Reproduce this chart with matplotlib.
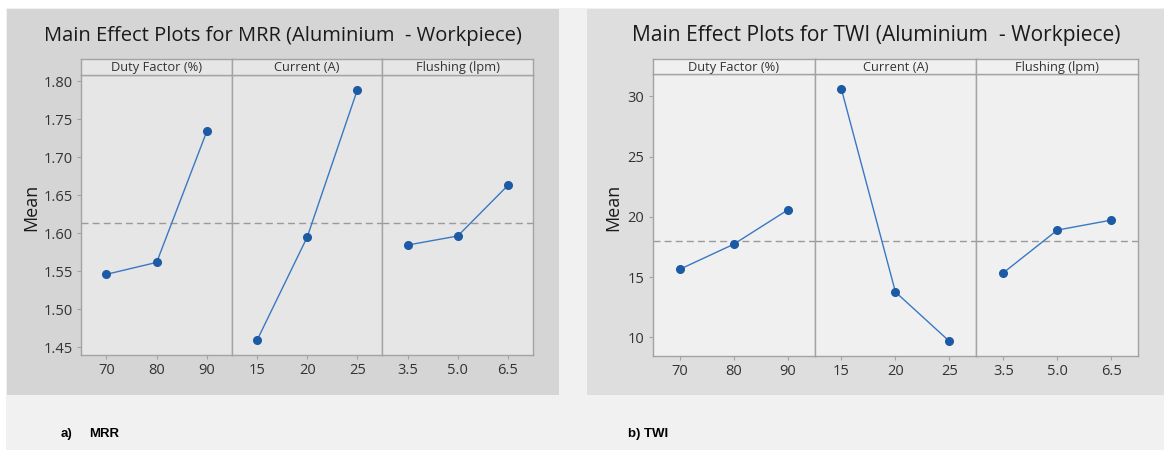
import matplotlib
matplotlib.use("Agg")
import matplotlib.pyplot as plt
from matplotlib.patches import Rectangle

# factor levels and main-effect means
factors = ["Duty Factor (%)", "Current (A)", "Flushing (lpm)"]
levels = [[70, 80, 90], [15, 20, 25], [3.5, 5.0, 6.5]]
level_labels = [["70", "80", "90"], ["15", "20", "25"], ["3.5", "5.0", "6.5"]]

mrr_means = [[1.5457, 1.5614, 1.7340],
             [1.4588, 1.5947, 1.7886],
             [1.5842, 1.5961, 1.6627]]
twi_means = [[15.64, 17.72, 20.56],
             [30.58, 13.76, 9.67],
             [15.36, 18.90, 19.73]]

mrr_ticks = [1.45, 1.50, 1.55, 1.60, 1.65, 1.70, 1.75, 1.80]
twi_ticks = [10, 15, 20, 25, 30]

W, H = 1164, 450
plt.rcParams['font.family'] = ['Open Sans', 'DejaVu Sans']

fig = plt.figure(figsize=(W / 100, H / 100), dpi=100)
fig.patch.set_facecolor('#f1f1f1')


def box(x0, y0, x1, y1):
    # pixel box (top-left origin) -> figure fraction rect
    return [x0 / W, 1 - y1 / H, (x1 - x0) / W, (y1 - y0) / H]


def rect(x0, y0, x1, y1, color):
    fig.patches.append(Rectangle((x0 / W, 1 - y1 / H), (x1 - x0) / W, (y1 - y0) / H,
                                 transform=fig.transFigure, facecolor=color,
                                 edgecolor='none', zorder=-10))


# white strip at the top / left, then the two grey panels
rect(0, 0, W, 8, 'white')
rect(0, 0, 6, H, 'white')
rect(6.7, 9, 559, 395, '#d5d5d5')
rect(587, 9, W, 395, '#dedede')

line_c = '#3a78c2'
mark_c = '#1c5aa5'
edge_c = '#a3a3a3'


def effect_plot(left, right, strip_top, top, bottom, means, ticks, ylim, fmt,
                title, title_x, ylabel_x, plot_bg, tick_fs, title_fs):
    xs = [left + (right - left) * k / 3 for k in range(4)]
    grand = sum(means[0]) / 3
    for k in range(3):
        ax = fig.add_axes(box(xs[k], top, xs[k + 1], bottom))
        ax.set_facecolor(plot_bg)
        lv = levels[k]
        step = lv[1] - lv[0]
        ax.set_xlim(lv[0] - step / 2, lv[2] + step / 2)
        ax.set_ylim(*ylim)
        ax.axhline(grand, color='#9a9a9a', lw=1, ls=(0, (5, 3)), zorder=1)
        ax.plot(lv, means[k], color=line_c, lw=1, zorder=2)
        ax.plot(lv, means[k], 'o', color=mark_c, ms=5.5, zorder=3)
        ax.set_xticks(lv)
        ax.set_xticklabels(level_labels[k], fontsize=tick_fs, color='#333333')
        ax.tick_params(axis='x', length=3, color=edge_c, pad=3)
        if k == 0:
            ax.set_yticks(ticks)
            ax.set_yticklabels([fmt.format(t) for t in ticks], fontsize=tick_fs, color='#333333')
            ax.tick_params(axis='y', length=3, color=edge_c, pad=3)
        else:
            ax.set_yticks([])
        for s in ax.spines.values():
            s.set_color(edge_c)
            s.set_linewidth(1)
        # strip header
        sx = fig.add_axes(box(xs[k], strip_top, xs[k + 1], top))
        sx.set_facecolor(plot_bg)
        sx.set_xticks([])
        sx.set_yticks([])
        for s in sx.spines.values():
            s.set_color(edge_c)
            s.set_linewidth(1)
        sx.text(0.5, 0.45, factors[k], ha='center', va='center', fontsize=9.3,
                color='#333333', transform=sx.transAxes)
    fig.text(title_x / W, 1 - 36 / H, title, ha='center', va='center',
             fontsize=title_fs, color='#1a1a1a')
    fig.text(ylabel_x / W, 1 - 207 / H, 'Mean', ha='center', va='center',
             rotation=90, fontsize=13, color='#1a1a1a')


effect_plot(81.4, 533, 59, 75, 355, mrr_means, mrr_ticks, (1.4395, 1.808), '{:.2f}',
            'Main Effect Plots for MRR (Aluminium  - Workpiece)', 283, 31,
            '#e6e6e6', 10.5, 14.5)
effect_plot(652.6, 1138.3, 59, 74.3, 356, twi_means, twi_ticks, (8.45, 31.83), '{:.0f}',
            'Main Effect Plots for TWI (Aluminium  - Workpiece)', 876, 613,
            '#f0f0f0', 10.5, 15.1)

fig.text(61 / W, 1 - 434 / H, 'a)', fontsize=9.5, fontweight='bold',
         family=['Liberation Sans', 'DejaVu Sans'], va='center')
fig.text(89 / W, 1 - 434 / H, 'MRR', fontsize=9.5, fontweight='bold',
         family=['Liberation Sans', 'DejaVu Sans'], va='center')
fig.text(628 / W, 1 - 434 / H, 'b) TWI', fontsize=9.5, fontweight='bold',
         family=['Liberation Sans', 'DejaVu Sans'], va='center')

fig.savefig('out.png', dpi=100, facecolor=fig.get_facecolor())
